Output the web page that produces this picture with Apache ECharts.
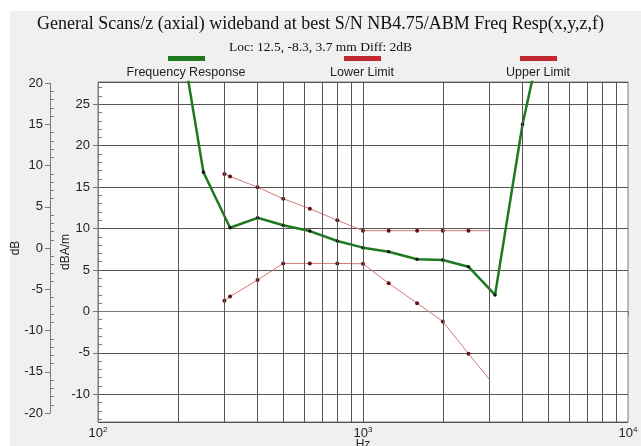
<!DOCTYPE html>
<html>
<head>
<meta charset="utf-8">
<script src="https://cdn.jsdelivr.net/npm/echarts@6/dist/echarts.min.js"></script>
<style>html,body{margin:0;padding:0;background:#fff}#c{width:641px;height:446px}</style>
</head>
<body>
<div id="c"></div>
<script>
var titleText = 'General Scans/z (axial) wideband at best S/N NB4.75/ABM Freq Resp(x,y,z,f)';
var subText = 'Loc: 12.5, -8.3, 3.7 mm Diff: 2dB';
var legendNames = ['Frequency Response', 'Lower Limit', 'Upper Limit'];

var frFreq = [200, 250, 315, 400, 500, 630, 800, 1000, 1250, 1600, 2000, 2500, 3150, 4000, 5000];
var frVals = [35.5, 16.8, 10.1, 11.3, 10.4, 9.7, 8.5, 7.7, 7.2, 6.3, 6.2, 5.4, 2.0, 22.6, 36.7];

var limFreq = [300, 315, 400, 500, 630, 800, 1000, 1250, 1600, 2000, 2500, 3000];
var upperVals = [16.6, 16.3, 15.0, 13.6, 12.4, 11.0, 9.75, 9.75, 9.75, 9.75, 9.75, 9.75];
var lowerVals = [1.3, 1.8, 3.8, 5.8, 5.8, 5.8, 5.75, 3.4, 1.0, -1.2, -5.1, -8.2];

var xGridFreqs = [200, 300, 400, 500, 600, 700, 800, 900, 1000, 2000, 3000, 4000, 5000, 6000, 7000, 8000, 9000];
var xMin = 100, xMax = 10000;
var yMin = -13.34, yMax = 27.69;
var dbMin = -20, dbMax = 20;

var chart = echarts.init(document.getElementById('c'), null, {renderer: 'canvas'});

function pairs(xs, ys, lastNoSymbol) {
  return xs.map(function (x, i) {
    var item = {value: [x, ys[i]]};
    if (lastNoSymbol && i === xs.length - 1) item.symbol = 'none';
    return item;
  });
}

var sans = 'Liberation Sans, Arial, sans-serif';
var serif = 'Liberation Serif, Times New Roman, serif';
var green = '#1f7a1f';
var red = '#c0282d';

var legendX = [186, 362, 538];
var legendColors = [green, red, red];
var graphics = [{
  type: 'rect', z: -10, silent: true,
  shape: {x: 10, y: 11, width: 631, height: 435},
  style: {fill: '#f0f0f0'}
}];
legendNames.forEach(function (n, i) {
  graphics.push({type: 'rect', z: 10, shape: {x: legendX[i] - 18, y: 56, width: 37, height: 5}, style: {fill: legendColors[i]}});
  graphics.push({type: 'text', z: 10, x: legendX[i], y: 73, style: {text: n, fill: '#222', font: '12.5px ' + sans, textAlign: 'center', textVerticalAlign: 'middle'}});
});

var axisLabelStyle = {color: '#222', fontFamily: sans, fontSize: 13};
var lineGray = '#7a7a7a';

var option = {
  backgroundColor: '#ffffff',
  animation: false,
  title: {
    text: titleText,
    subtext: subText,
    left: 'center',
    top: 10,
    itemGap: 7,
    textStyle: {fontFamily: serif, fontSize: 18, fontWeight: 'normal', color: '#111'},
    subtextStyle: {fontFamily: serif, fontSize: 13.5, color: '#111'}
  },
  graphic: graphics,
  grid: [
    {left: 98, right: 13, top: 82, height: 340, show: true, backgroundColor: '#ffffff', borderColor: lineGray, borderWidth: 1, z: 0, containLabel: false, outerBoundsMode: 'none'},
    {left: 50, width: 10, top: 83, height: 330, show: false, containLabel: false, outerBoundsMode: 'none'}
  ],
  xAxis: [
    {
      type: 'log', logBase: 10, gridIndex: 0, min: xMin, max: xMax,
      name: 'Hz', nameLocation: 'middle', nameGap: 17, nameMoveOverlap: false,
      nameTextStyle: {color: '#222', fontFamily: sans, fontSize: 12},
      axisLine: {show: true, lineStyle: {color: lineGray}},
      axisTick: {show: true, length: 4, lineStyle: {color: lineGray}},
      splitLine: {show: false},
      axisLabel: {
        margin: 4,
        formatter: function (v) { return '10{s|' + Math.round(Math.log10(v)) + '}'; },
        color: '#222', fontFamily: sans, fontSize: 13,
        rich: {s: {fontSize: 8, verticalAlign: 'top', color: '#222', fontFamily: sans, padding: [0, 0, 6, 0]}}
      }
    },
    {type: 'value', gridIndex: 1, show: false, min: 0, max: 1}
  ],
  yAxis: [
    {
      type: 'value', gridIndex: 0, position: 'left', min: yMin, max: yMax, splitNumber: 8,
      name: 'dBA/m', nameLocation: 'middle', nameGap: 26, nameRotate: 90, nameMoveOverlap: false,
      nameTextStyle: {color: '#222', fontFamily: sans, fontSize: 12},
      axisLine: {show: true, lineStyle: {color: lineGray}},
      axisTick: {show: true, length: 5, lineStyle: {color: lineGray}},
      axisLabel: Object.assign({margin: 8, showMinLabel: false, showMaxLabel: false}, axisLabelStyle),
      splitLine: {show: true, lineStyle: {color: '#555', width: 1}}
    },
    {
      type: 'value', gridIndex: 0, position: 'left', min: yMin, max: yMax, splitNumber: 8,
      axisLine: {show: false},
      axisTick: {show: false, inside: true},
      minorTick: {show: true, splitNumber: 5, length: 4, lineStyle: {color: lineGray}},
      axisLabel: {show: false},
      splitLine: {show: false}
    },
    {
      type: 'value', gridIndex: 1, position: 'left', min: dbMin, max: dbMax, interval: 5,
      name: 'dB', nameLocation: 'middle', nameGap: 28, nameRotate: 90, nameMoveOverlap: false,
      nameTextStyle: {color: '#222', fontFamily: sans, fontSize: 12},
      axisLine: {show: true, lineStyle: {color: lineGray}},
      axisTick: {show: true, length: 5, lineStyle: {color: lineGray}},
      axisLabel: Object.assign({margin: 7}, axisLabelStyle),
      splitLine: {show: false}
    },
    {
      type: 'value', gridIndex: 1, position: 'left', min: dbMin, max: dbMax, interval: 5,
      axisLine: {show: false},
      axisTick: {show: false, inside: true},
      minorTick: {show: true, splitNumber: 5, length: 4, lineStyle: {color: lineGray}},
      axisLabel: {show: false},
      splitLine: {show: false}
    }
  ],
  series: [
    {
      name: 'grid', type: 'line', xAxisIndex: 0, yAxisIndex: 0, data: [], z: 1, silent: true,
      markLine: {
        silent: true, symbol: ['none', 'none'], label: {show: false}, animation: false,
        lineStyle: {color: '#555', width: 1, type: 'solid'},
        data: xGridFreqs.map(function (f) { return {xAxis: f}; })
      }
    },
    {
      name: legendNames[2], type: 'line', xAxisIndex: 0, yAxisIndex: 0, z: 3,
      data: pairs(limFreq, upperVals, true),
      lineStyle: {color: '#d07a7a', width: 1},
      symbol: 'circle', symbolSize: 4, showAllSymbol: true,
      itemStyle: {color: '#6a0e0e', borderWidth: 0}
    },
    {
      name: legendNames[1], type: 'line', xAxisIndex: 0, yAxisIndex: 0, z: 3,
      data: pairs(limFreq, lowerVals, true),
      lineStyle: {color: '#d07a7a', width: 1},
      symbol: 'circle', symbolSize: 4, showAllSymbol: true,
      itemStyle: {color: '#6a0e0e', borderWidth: 0}
    },
    {
      name: legendNames[0], type: 'line', xAxisIndex: 0, yAxisIndex: 0, z: 4,
      data: pairs(frFreq, frVals, false),
      lineStyle: {color: green, width: 2.5},
      symbol: 'circle', symbolSize: 3.5, showAllSymbol: true,
      itemStyle: {color: '#111', borderWidth: 0}
    }
  ]
};
chart.setOption(option);
</script>
</body>
</html>
